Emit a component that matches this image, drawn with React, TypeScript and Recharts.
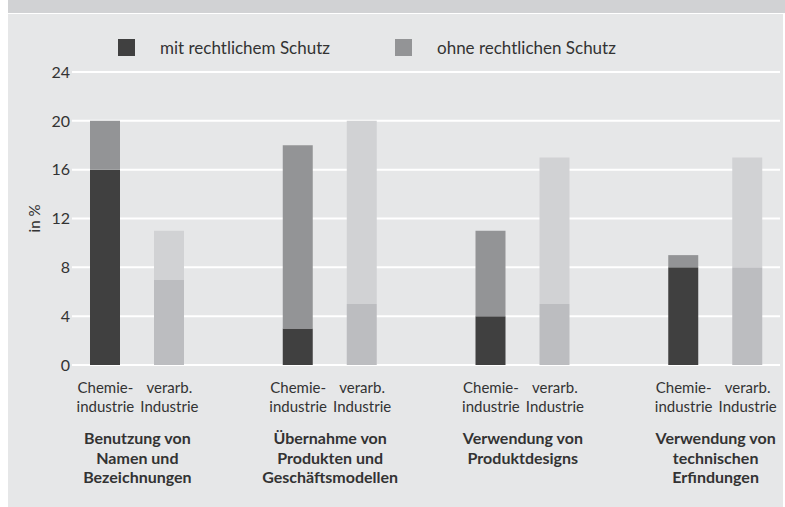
import { Bar, BarChart, CartesianGrid, XAxis, YAxis } from 'recharts';

const groupTitles = [
  ['Benutzung von', 'Namen und', 'Bezeichnungen'],
  ['Übernahme von', 'Produkten und', 'Geschäftsmodellen'],
  ['Verwendung von', 'Produktdesigns'],
  ['Verwendung von', 'technischen', 'Erfindungen'],
];
const subLabels = [
  ['Chemie-', 'industrie'],
  ['verarb.', 'Industrie'],
];
// Chemieindustrie
const chemMit = [16, 3, 4, 8];
const chemOhne = [4, 15, 7, 1];
// verarbeitende Industrie
const verMit = [7, 5, 5, 8];
const verOhne = [4, 15, 12, 9];
const yTicks = [0, 4, 8, 12, 16, 20, 24];

const legendItems = [
  { name: 'mit rechtlichem Schutz', color: '#404040' },
  { name: 'ohne rechtlichen Schutz', color: '#939496' },
];

const data = groupTitles.map((t, i) => ({
  name: t.join(' '),
  chemMit: chemMit[i],
  chemOhne: chemOhne[i],
  verMit: verMit[i],
  verOhne: verOhne[i],
}));

const FONT = 'Lato, "Noto Sans", sans-serif';
const TEXT = '#333';
const BAR_SIZE = 30;
const BAR_GAP = 34;
const half = (BAR_SIZE + BAR_GAP) / 2;

const GroupTick = (props: any) => {
  const x = Number(props.x ?? 0);
  const y = Number(props.y ?? 0);
  const idx = props.index ?? props.payload?.index ?? 0;
  const title = groupTitles[idx] ?? [];
  return (
    <g fontFamily={FONT} fill={TEXT}>
      {subLabels.map((lines, j) => (
        <text key={j} x={x + (j === 0 ? -half : half)} textAnchor="middle" fontSize={15}>
          {lines.map((l, k) => (
            <tspan key={k} x={x + (j === 0 ? -half : half)} y={y + 28 + k * 18.5}>{l}</tspan>
          ))}
        </text>
      ))}
      <text x={x} textAnchor="middle" fontSize={16} fontWeight="bold">
        {title.map((l, k) => (
          <tspan key={k} x={x} y={y + 79 + k * 19.5}>{l}</tspan>
        ))}
      </text>
    </g>
  );
};

export default function App() {
  return (
    <div style={{ position: 'absolute', left: 8, top: 0, width: 775, height: 507, background: '#e6e7e8' }}>
      <div style={{ position: 'absolute', left: 0, top: 0, width: 777, height: 13, background: '#d1d2d4', borderBottom: '1px solid #fff' }} />
      <div style={{ position: 'absolute', left: 0, top: 0, width: 777, height: 0, fontFamily: FONT, fontSize: 17, color: TEXT }}>
        {legendItems.map((it, i) => (
          <div key={it.name} style={{ position: 'absolute', left: 110 + i * 277, top: 39, display: 'flex', alignItems: 'center', whiteSpace: 'nowrap' }}>
            <span style={{ display: 'inline-block', width: 17, height: 17, background: it.color, marginRight: 25 }} />
            <span style={{ lineHeight: '17px' }}>{it.name}</span>
          </div>
        ))}
      </div>
      <div style={{ position: 'absolute', left: 0, top: 0 }}>
        <BarChart
          width={777}
          height={507}
          data={data}
          margin={{ top: 72, right: 5, left: 0, bottom: 0 }}
          barSize={BAR_SIZE}
          barGap={BAR_GAP}
        >
          <CartesianGrid vertical={false} stroke="#ffffff" strokeWidth={2} />
          <XAxis
            dataKey="name"
            interval={0}
            height={142}
            axisLine={false}
            tickLine={false}
            tickSize={0}
            tickMargin={0}
            padding={{ left: -31, right: -32 }}
            tick={GroupTick}
          />
          <YAxis
            width={64}
            domain={[0, 24]}
            ticks={yTicks}
            axisLine={false}
            tickLine={false}
            tickSize={0}
            tickMargin={2}
            tick={{ fill: TEXT, fontSize: 16, fontFamily: FONT }}
            label={{ value: 'in %', angle: -90, position: 'center', dx: -5, fill: TEXT, fontSize: 15, fontFamily: FONT }}
          />
          <Bar dataKey="chemMit" stackId="chem" fill="#404040" isAnimationActive={false} />
          <Bar dataKey="chemOhne" stackId="chem" fill="#939496" isAnimationActive={false} />
          <Bar dataKey="verMit" stackId="ver" fill="#bcbdc0" isAnimationActive={false} />
          <Bar dataKey="verOhne" stackId="ver" fill="#d1d2d4" isAnimationActive={false} />
        </BarChart>
      </div>
    </div>
  );
}
